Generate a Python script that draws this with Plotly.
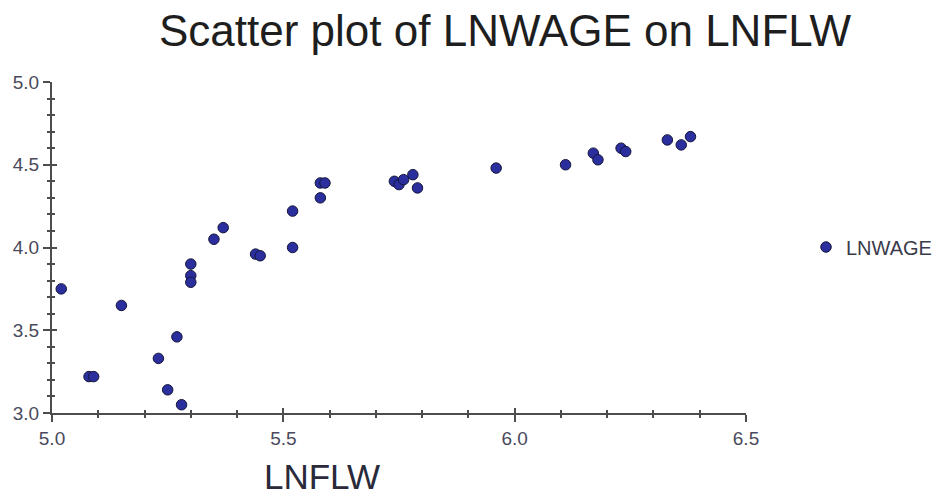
import plotly.graph_objects as go

# LNFLW (x) and LNWAGE (y) observations
lnflw = [5.02, 5.08, 5.09, 5.15, 5.23, 5.25, 5.27, 5.28, 5.30, 5.30, 5.30,
         5.35, 5.37, 5.44, 5.45, 5.52, 5.52, 5.58, 5.59, 5.58, 5.74, 5.75,
         5.76, 5.78, 5.79, 5.96, 6.11, 6.17, 6.18, 6.23, 6.24, 6.33, 6.36, 6.38]
lnwage = [3.75, 3.22, 3.22, 3.65, 3.33, 3.14, 3.46, 3.05, 3.90, 3.83, 3.79,
          4.05, 4.12, 3.96, 3.95, 4.22, 4.00, 4.39, 4.39, 4.30, 4.40, 4.38,
          4.41, 4.44, 4.36, 4.48, 4.50, 4.57, 4.53, 4.60, 4.58, 4.65, 4.62, 4.67]

x_ticks = [5.0, 5.5, 6.0, 6.5]
x_tick_text = ["5.0", "5.5", "6.0", "6.5"]
y_ticks = [3.0, 3.5, 4.0, 4.5, 5.0]
y_tick_text = ["3.0", "3.5", "4.0", "4.5", "5.0"]

FONT = "Liberation Sans, Arial, sans-serif"
AXIS_COLOR = "#4d4d4d"
LABEL_COLOR = "#4a4a5c"

fig = go.Figure()
fig.add_trace(go.Scatter(
    x=lnflw, y=lnwage, mode="markers", name="LNWAGE",
    marker=dict(size=10.5, color="#2b2f9e", line=dict(color="#15153a", width=1)),
    cliponaxis=False,
))
# empty trace so the overlay axes (inner half of the crossing ticks) are drawn
fig.add_trace(go.Scatter(x=[], y=[], xaxis="x2", yaxis="y2", showlegend=False))

common = dict(showgrid=False, zeroline=False, showline=True, linecolor=AXIS_COLOR,
              linewidth=2, tickcolor=AXIS_COLOR, tickwidth=2)

fig.update_layout(
    width=940, height=497,
    margin=dict(l=52, r=194, t=82, b=84),
    paper_bgcolor="white", plot_bgcolor="white",
    font=dict(family=FONT, color=LABEL_COLOR, size=19),
    title=dict(text="Scatter plot of LNWAGE on LNFLW", x=505 / 940, xanchor="center",
               xref="container", y=1 - 31 / 497, yanchor="middle", yref="container",
               font=dict(family=FONT, size=44, color="#1e1e1e")),
    xaxis=dict(range=[5.0, 6.5], tickvals=x_ticks, ticktext=x_tick_text,
               ticks="outside", ticklen=7,
               minor=dict(dtick=0.1, ticks="outside", ticklen=3, tickwidth=2,
                          tickcolor=AXIS_COLOR),
               tickfont=dict(size=19, color=LABEL_COLOR), **common),
    yaxis=dict(range=[3.0, 5.0], tickvals=y_ticks, ticktext=y_tick_text,
               ticks="outside", ticklen=7,
               minor=dict(dtick=0.1, ticks="outside", ticklen=3, tickwidth=2,
                          tickcolor=AXIS_COLOR),
               tickfont=dict(size=19, color=LABEL_COLOR), **common),
    xaxis2=dict(overlaying="x", matches="x", tickvals=x_ticks, ticks="inside", ticklen=5,
                showticklabels=False, anchor="y2", side="bottom",
                minor=dict(dtick=0.1, ticks="inside", ticklen=3, tickwidth=2,
                           tickcolor=AXIS_COLOR), **common),
    yaxis2=dict(overlaying="y", matches="y", tickvals=y_ticks, ticks="inside", ticklen=5,
                showticklabels=False, anchor="x2", side="left",
                minor=dict(dtick=0.1, ticks="inside", ticklen=3, tickwidth=2,
                           tickcolor=AXIS_COLOR), **common),
    legend=dict(x=806 / 940, xref="container", xanchor="left",
                y=1 - 247 / 497, yref="container", yanchor="middle",
                itemwidth=30, font=dict(size=20, color="#3a3a4a", family=FONT),
                bgcolor="rgba(0,0,0,0)"),
    showlegend=True,
)

fig.add_annotation(text="LNFLW", x=(322 - 52) / 694, y=(413 - 476) / 331,
                   xref="paper", yref="paper", xanchor="center", yanchor="middle",
                   showarrow=False, font=dict(family=FONT, size=35, color="#2a2a3a"))

fig.write_html("out.html")
